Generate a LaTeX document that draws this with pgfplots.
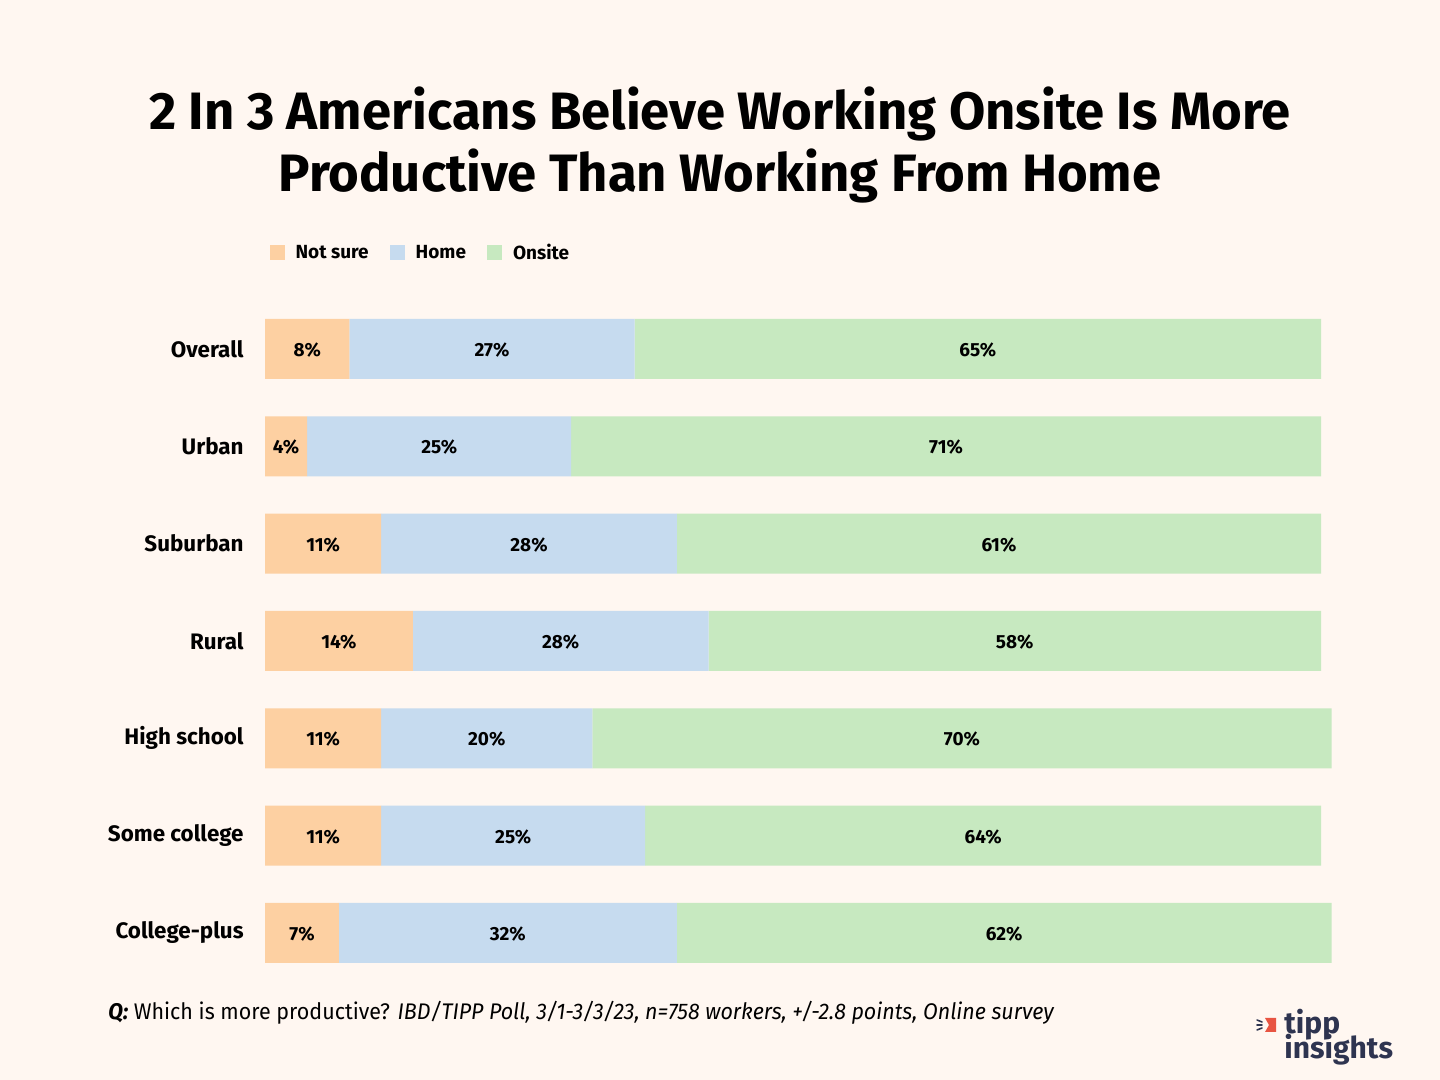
\documentclass[border=0pt]{standalone}
\usepackage{pgfplots}
\pgfplotsset{compat=1.18}
\usepackage{pgfplotstable}
\usepackage{fontspec}
\setmainfont{Fira Sans}
\newfontfamily\condfont[FakeStretch=0.95]{Fira Sans}

\definecolor{bgc}{RGB}{255,247,241}
\definecolor{cns}{RGB}{253,208,162}
\definecolor{chome}{RGB}{198,219,239}
\definecolor{consite}{RGB}{199,233,192}
\definecolor{navy}{RGB}{46,52,80}
\definecolor{tippred}{RGB}{232,84,66}

% share of workers (%), not sure / home / onsite
\pgfplotstableread[col sep=comma]{
idx,cat,notsure,home,onsite
0,Overall,8,27,65
1,Urban,4,25,71
2,Suburban,11,28,61
3,Rural,14,28,58
4,High school,11,20,70
5,Some college,11,25,64
6,College-plus,7,32,62
}\survey

\begin{document}
\begin{tikzpicture}[x=1pt,y=1pt]
\fill[bgc] (0,0) rectangle (720,540);
\node[font=\bfseries\fontsize{26.3}{31}\selectfont, align=center] at (360,467.5)
  {2 In 3 Americans Believe Working Onsite Is More\\Productive Than Working From Home};

\begin{axis}[
  at={(132.5pt,389.85pt)}, anchor=north west,
  scale only axis, width=528pt, height=340.67pt,
  xmin=0, xmax=100, ymin=-0.5, ymax=6.5, y dir=reverse,
  xbar stacked, bar width=30pt, clip=false,
  axis line style={draw=none}, tick style={draw=none},
  xtick=\empty, ytick={0,...,6},
  yticklabels from table={\survey}{cat},
  yticklabel style={font=\bfseries\fontsize{11.2}{13}\selectfont, inner sep=0pt, xshift=-10.5pt},
  legend columns=3,
  legend image code/.code={\fill[#1] (0pt,-3.75pt) rectangle (7.5pt,3.75pt);},
  legend style={at={(0.004,1.0695)}, anchor=west, draw=none, fill=none,
    font=\bfseries\fontsize{9.5}{11}\selectfont, inner sep=0pt,
    /tikz/every odd column/.append style={column sep=3.5pt},
    /tikz/every even column/.append style={column sep=8.5pt}},
  /pgf/number format/assume math mode=true,
  nodes near coords={\pgfmathprintnumber{\pgfplotspointmeta}\%},
  point meta=rawx,
  every node near coord/.append style={font=\bfseries\fontsize{9.5}{11}\selectfont,
    anchor=center, text=black, yshift=-0.5pt},
]
\addplot[fill=cns, draw=none] table[x=notsure, y=idx]{\survey};
\addplot[fill=chome, draw=none] table[x=home, y=idx]{\survey};
\addplot[fill=consite, draw=none] table[x=onsite, y=idx]{\survey};
\legend{Not sure, Home, Onsite}
\end{axis}

\node[anchor=west, inner sep=0pt, font=\condfont\fontsize{11.3}{13}\selectfont] at (54,33.5)
  {\textbf{\textit{Q:}} Which is more productive? \textit{IBD/TIPP Poll, 3/1-3/3/23, n=758 workers, +/-2.8 points, Online survey}};

% logo
\fill[tippred] (632.5,31) -- (638,31) -- (638,24) -- (632.5,24) -- (634.5,27.5) -- cycle;
\draw[navy, line width=0.8pt, line cap=round] (628.5,30) -- (631,29) (628.5,27.5) -- (631,27.5) (628.5,25) -- (631,26);
\node[anchor=base west, inner sep=0pt, text=navy, font=\bfseries\fontsize{15}{17}\selectfont] at (642,23) {tipp};
\node[anchor=base west, inner sep=0pt, text=navy, font=\bfseries\fontsize{15}{17}\selectfont] at (642,10.5) {insights};
\end{tikzpicture}
\end{document}
